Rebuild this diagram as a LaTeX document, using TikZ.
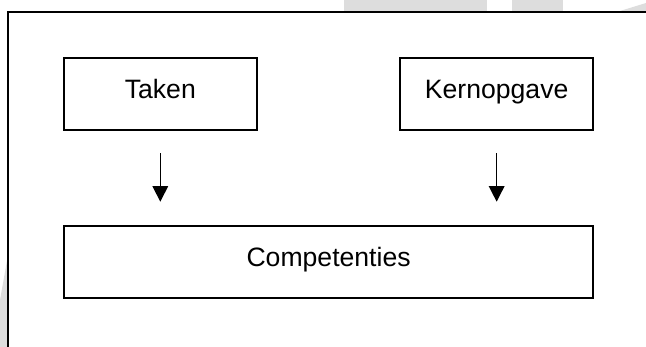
\documentclass[tikz,border=0pt]{standalone}
\usepackage{fontspec}
\setmainfont{Liberation Sans}
\usetikzlibrary{arrows.meta,calc}
\definecolor{wm}{RGB}{221,221,221}
\begin{document}
\begin{tikzpicture}[x=1pt,y=-1pt,
  box/.style={draw=black, line width=1.9pt, inner sep=0pt, outer sep=0pt, fill=white},
  lbl/.style={font=\fontsize{26.6}{30}\selectfont, anchor=base, inner sep=0pt, outer sep=0pt},
  arr/.style={line width=1.4pt, -{Triangle[length=15.5pt,width=15.5pt]}}]
\useasboundingbox (0,0) rectangle (646,347);
\begin{scope}
\clip (0,0) rectangle (646,347);
\fill[wm] (344,0) rectangle (487,11);
\fill[wm] (512,0) rectangle (563,11);
\fill[wm] (620,11) -- (646,3) -- (646,11) -- cycle;
\fill[wm] (0,300) -- (7.5,258) -- (7.5,347) -- (0,347) -- cycle;
\node[box, fill=none, minimum width=641.8pt, minimum height=340.3pt] (frame) at (329.1,181.85) {};
\end{scope}
\node[box, minimum width=192.8pt, minimum height=72.3pt] (taken) at (160.3,93.85) {};
\node[box, minimum width=193.3pt, minimum height=72.3pt] (kern) at (496.65,93.85) {};
\node[box, minimum width=529.4pt, minimum height=72pt] (comp) at (328.6,261.7) {};
\node[lbl] (takenlbl) at (160.3,98.8) {Taken};
\node[lbl] (kernlbl) at (496.65,98.8) {Kernopgave};
\node[lbl] (complbl) at (328.6,267) {Competenties};
\draw[arr, shorten <=23.3pt, shorten >=24pt] (taken.south) -- (taken.south |- comp.north);
\draw[arr, shorten <=23.3pt, shorten >=24pt] (kern.south) -- (kern.south |- comp.north);
\end{tikzpicture}
\end{document}
